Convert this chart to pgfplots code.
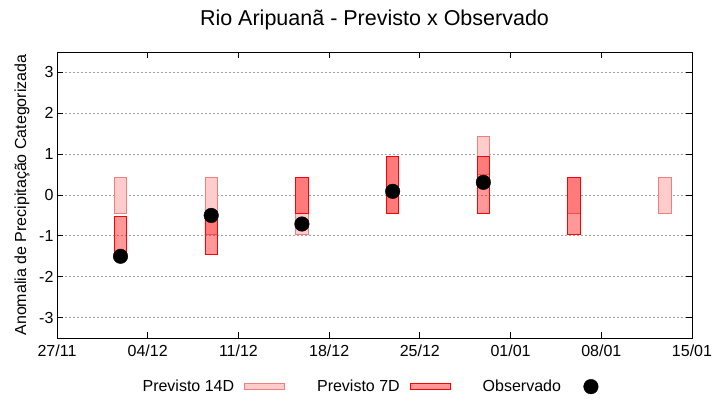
\documentclass[border=0pt]{standalone}
\usepackage{fontspec}
\setmainfont{Liberation Sans}
\usepackage{pgfplots}
\usepackage{pgfplotstable}
\pgfplotsset{compat=1.18}

\definecolor{rosa}{HTML}{FFCCCC}
\definecolor{salmao}{HTML}{F08080}
\definecolor{grade}{HTML}{A0A0A0}

% x = dias desde 27/11, lo/hi = limites da faixa prevista
\pgfplotstableread{
x    lo     hi
4.9  -0.45  0.44
11.9 -0.96  0.44
18.9 -0.96  0.44
25.9 -0.45  0.95
32.9  0.50  1.44
39.9 -0.45  0.44
46.9 -0.45  0.44
}\quatorzeD

\pgfplotstableread{
x    lo     hi
4.9  -1.45 -0.52
11.9 -1.45 -0.45
18.9 -0.45  0.44
25.9 -0.45  0.95
32.9 -0.45  0.95
39.9 -0.96  0.44
}\seteD

\pgfplotstableread{
x    obs
4.9  -1.50
11.9 -0.50
18.9 -0.71
25.9  0.09
32.9  0.31
}\observado

\pgfplotsset{
  quadro/.style={
    width=635pt, height=286pt, scale only axis,
    at={(57pt,62pt)}, anchor=south west,
    xmin=0, xmax=49, ymin=-3.5, ymax=3.5,
  },
  empilhado/.style={ybar stacked, stack negative=on previous, bar width=0.96},
  barra/.style={legend image code/.code={\draw[##1] (0pt,-3pt) rectangle (40pt,3pt);}},
  ponto/.style={legend image code/.code={\path[draw=none] (0pt,0pt) -- (40pt,0pt); \path[##1] plot coordinates {(20pt,0pt)};}},
  estilo14/.style={fill=rosa, draw=salmao, line width=0.9pt},
  estilo7/.style={fill=red, fill opacity=0.4, draw=red, draw opacity=1, line width=0.9pt},
}

\begin{document}
\begin{tikzpicture}
\path[use as bounding box] (0,0) rectangle (720pt,400pt);

\begin{axis}[
  quadro, empilhado,
  font=\fontsize{16}{19}\selectfont,
  axis line style={line width=0.9pt},
  tick style={black, line width=0.9pt},
  major tick length=6pt,
  xtick={0,7,...,49},
  xticklabels={27/11,04/12,11/12,18/12,25/12,01/01,08/01,15/01},
  xticklabel style={yshift=-3pt},
  ytick={-3,-2,...,3},
  yticklabels={-3,-2,-1,0,1,2,3},
  ymajorgrids,
  grid style={grade, line width=0.8pt, dash pattern=on 2pt off 2pt},
  ylabel={Anomalia de Precipitação Categorizada},
  ylabel style={at={(axis description cs:-0.055,0.5)}, anchor=center},
  title={Rio Aripuanã - Previsto x Observado},
  title style={at={(axis description cs:0.5,1.091)}, anchor=center, font=\fontsize{21.5}{25}\selectfont},
]
\addplot[draw=none, fill=none] table[x=x, y=lo] {\quatorzeD};
\addplot[estilo14] table[x=x, y expr=\thisrow{hi}-\thisrow{lo}] {\quatorzeD};
\end{axis}

\begin{axis}[quadro, hide axis, empilhado]
\addplot[draw=none, fill=none] table[x=x, y=lo] {\seteD};
\addplot[estilo7] table[x=x, y expr=\thisrow{hi}-\thisrow{lo}] {\seteD};
\end{axis}

\begin{axis}[
  quadro, hide axis,
  legend plot pos=right,
  legend columns=3,
  legend style={
    at={(axis description cs:0.502,-0.17)}, anchor=center,
    draw=none, fill=none,
    font=\fontsize{16}{19}\selectfont,
    /tikz/every odd column/.append style={column sep=8pt},
    /tikz/every even column/.append style={column sep=30pt},
  },
]
\addlegendimage{estilo14, barra}
\addlegendentry{Previsto 14D}
\addlegendimage{estilo7, barra}
\addlegendentry{Previsto 7D}
\addplot[only marks, mark=*, mark size=7.3pt, black, ponto]
  table[x=x, y=obs] {\observado};
\addlegendentry{Observado}
\end{axis}
\end{tikzpicture}
\end{document}
